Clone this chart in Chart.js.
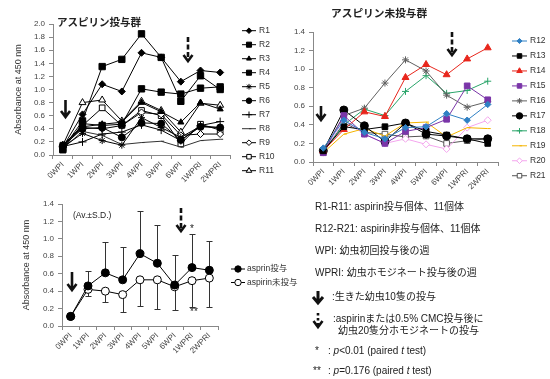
<!DOCTYPE html>
<html><head><meta charset="utf-8">
<script src="https://cdn.jsdelivr.net/npm/chart.js"></script>
<style>
html,body{margin:0;padding:0;background:#fff;}
body{width:550px;height:379px;position:relative;overflow:hidden;font-family:"Liberation Sans","Noto Sans CJK JP",sans-serif;color:#222;}
.c{position:absolute;}
.t{position:absolute;white-space:nowrap;font-size:10px;line-height:12px;color:#222;}
.ttl{position:absolute;white-space:nowrap;font-weight:bold;color:#222;font-family:"Noto Sans CJK JP",sans-serif;}
svg{position:absolute;left:0;top:0;}
</style></head><body>
<div class="c" style="left:0;top:0;width:280px;height:195px"><canvas id="c1" width="280" height="195"></canvas></div>
<div class="c" style="left:280px;top:0;width:270px;height:195px"><canvas id="c2" width="270" height="195"></canvas></div>
<div class="c" style="left:0;top:190px;width:310px;height:189px"><canvas id="c3" width="310" height="189"></canvas></div>

<div class="ttl" style="left:57px;top:14px;font-size:10.5px;line-height:16px">アスピリン投与群</div>
<div class="ttl" style="left:331px;top:5px;font-size:10.7px;line-height:16px">アスピリン未投与群</div>
<div class="t" style="left:73px;top:209px;font-size:8.5px">(Av.±S.D.)</div>
<div class="t" style="left:190px;top:223px;font-size:10px">*</div>
<div class="t" style="left:190px;top:306px;font-size:10px">**</div>

<div class="t" style="left:315px;top:201px">R1-R11: aspirin投与個体、11個体</div>
<div class="t" style="left:315px;top:223px">R12-R21: aspirin非投与個体、11個体</div>
<div class="t" style="left:315px;top:245px">WPI: 幼虫初回投与後の週</div>
<div class="t" style="left:315px;top:267px">WPRI: 幼虫ホモジネート投与後の週</div>
<div class="t" style="left:332px;top:291px">:生きた幼虫10隻の投与</div>
<div class="t" style="left:333px;top:313px">:aspirinまたは0.5% CMC投与後に</div>
<div class="t" style="left:338px;top:325px">幼虫20隻分ホモジネートの投与</div>
<div class="t" style="left:315px;top:345px">*</div>
<div class="t" style="left:328px;top:345px">: <i>p</i>&lt;0.01 (paired <i>t</i> test)</div>
<div class="t" style="left:313px;top:365px">**</div>
<div class="t" style="left:328px;top:365px">: <i>p</i>=0.176 (paired <i>t</i> test)</div>

<svg width="550" height="379" viewBox="0 0 550 379">
 <g fill="none" stroke="#111" stroke-width="2.6" stroke-linejoin="miter">
  <path d="M65.5 100 L65.5 116 M61 111 L65.5 117 L70 111"/>
  <path d="M321 106 L321 119 M316.5 114 L321 120 L325.5 114"/>
  <path d="M72 272 L72 289 M67.5 284 L72 290 L76.5 284"/>
  <path d="M318 291 L318 302 M313 297 L318 303 L323 297" stroke-width="3"/>
  <path d="M188 37 L188 59" stroke-dasharray="5 2.5"/><path d="M183.5 55 L188 61 L192.5 55"/>
  <path d="M452 32 L452 53" stroke-dasharray="5 2.5"/><path d="M447.5 49 L452 55 L456.5 49"/>
  <path d="M181 208 L181 229" stroke-dasharray="5 2.5"/><path d="M176.5 225 L181 231 L185.5 225"/>
  <path d="M318 313 L318 325" stroke-dasharray="2.5 2.5"/><path d="M313.5 321 L318 327 L322.5 321"/>
 </g>
</svg>

<script>
const categories = ['0WPI','1WPI','2WPI','3WPI','4WPI','5WPI','6WPI','1WPRI','2WPRI'];

// アスピリン投与群
const R1  = [0.12, 0.62, 1.08, 0.97, 1.56, 1.49, 1.12, 1.29, 1.26];
const R2  = [0.10, 0.52, 1.35, 1.46, 1.85, 1.49, 0.82, 1.21, 1.00];
const R3  = [0.15, 0.43, 0.47, 0.50, 0.80, 0.66, 0.50, 0.80, 0.70];
const R4  = [0.08, 0.48, 0.45, 0.47, 1.01, 0.96, 0.93, 1.02, 1.04];
const R5  = [0.12, 0.33, 0.22, 0.15, 0.57, 0.42, 0.27, 0.44, 0.42];
const R6  = [0.14, 0.40, 0.42, 0.27, 0.49, 0.48, 0.23, 0.43, 0.42];
const R7  = [0.13, 0.20, 0.32, 0.35, 0.46, 0.38, 0.22, 0.45, 0.51];
const R8  = [0.10, 0.36, 0.30, 0.16, 0.19, 0.21, 0.12, 0.22, 0.24];
const R9  = [0.13, 0.42, 0.40, 0.45, 0.65, 0.62, 0.30, 0.32, 0.32];
const R10 = [0.15, 0.45, 0.72, 0.45, 0.68, 0.60, 0.17, 0.47, 0.38];
const R11 = [0.15, 0.80, 0.84, 0.52, 0.82, 0.68, 0.35, 0.79, 0.76];

// アスピリン未投与群
const R12 = [0.15, 0.45, 0.32, 0.25, 0.37, 0.38, 0.52, 0.45, 0.62];
const R13 = [0.12, 0.38, 0.35, 0.38, 0.42, 0.33, 0.29, 0.25, 0.20];
const R14 = [0.12, 0.35, 0.54, 0.49, 0.91, 1.05, 0.94, 1.11, 1.23];
const R15 = [0.10, 0.50, 0.30, 0.20, 0.33, 0.37, 0.46, 0.82, 0.67];
const R16 = [0.12, 0.50, 0.58, 0.85, 1.10, 0.98, 0.72, 0.59, 0.65];
const R17 = [0.12, 0.56, 0.39, 0.22, 0.42, 0.30, 0.28, 0.25, 0.25];
const R18 = [0.12, 0.40, 0.57, 0.50, 0.76, 0.93, 0.74, 0.77, 0.87];
const R19 = [0.10, 0.30, 0.36, 0.28, 0.42, 0.43, 0.27, 0.37, 0.36];
const R20 = [0.10, 0.45, 0.30, 0.20, 0.25, 0.19, 0.14, 0.37, 0.45];
const R21 = [0.10, 0.42, 0.32, 0.30, 0.27, 0.28, 0.20, 0.23, 0.25];

// 平均 ± S.D.
const aspMean = [0.11, 0.46, 0.61, 0.53, 0.83, 0.72, 0.47, 0.67, 0.64];
const aspSD   = [0.00, 0.17, 0.35, 0.38, 0.49, 0.44, 0.34, 0.38, 0.33];
const nonMean = [0.11, 0.42, 0.40, 0.36, 0.53, 0.53, 0.45, 0.52, 0.55];
const nonSD   = [0.00, 0.07, 0.12, 0.20, 0.30, 0.33, 0.27, 0.30, 0.33];

const FONT = '"Liberation Sans","Noto Sans CJK JP",sans-serif';
Chart.defaults.font.family = FONT;
Chart.defaults.color = '#444';

function ds(label, data, color, style, radius, fill) {
  return {label, data, borderColor: color, borderWidth: 1, pointStyle: style,
    pointRadius: radius, pointBackgroundColor: fill, pointBorderColor: color,
    pointBorderWidth: 1, tension: 0, fill: false};
}

const sideLegend = {
  id: 'sideLegend',
  afterDraw(chart, args, o) {
    if (!o || o.x === undefined) return;
    const ctx = chart.ctx;
    chart.data.datasets.forEach((d, i) => {
      const y = o.y + i * o.dy;
      ctx.save();
      ctx.strokeStyle = d.borderColor; ctx.lineWidth = 1;
      ctx.beginPath(); ctx.moveTo(o.x, y); ctx.lineTo(o.x + o.len, y); ctx.stroke();
      ctx.fillStyle = d.pointBackgroundColor; ctx.strokeStyle = d.pointBorderColor;
      const opt = {pointStyle: d.pointStyle, radius: d.pointRadius * 0.8, borderWidth: 1, rotation: 0};
      if (Chart.helpers && Chart.helpers.drawPoint) Chart.helpers.drawPoint(ctx, opt, o.x + o.len / 2, y);
      ctx.fillStyle = o.color || '#333';
      ctx.font = (o.size || 8.5) + 'px ' + FONT;
      ctx.textBaseline = 'middle';
      ctx.fillText(d.label, o.x + o.len + o.gap, y);
      ctx.restore();
    });
  }
};

const errorBars = {
  id: 'errorBars',
  beforeDatasetsDraw(chart, args, o) {
    if (!o || !o.enabled) return;
    const ctx = chart.ctx, xs = chart.scales.x, ys = chart.scales.y;
    ctx.save(); ctx.strokeStyle = '#333'; ctx.lineWidth = 1;
    const bar = (i, m, e) => {
      const x = Math.round(xs.getPixelForValue(i)) + 0.5;
      const y0 = ys.getPixelForValue(m), y1 = Math.round(ys.getPixelForValue(e)) + 0.5;
      ctx.beginPath(); ctx.moveTo(x, y0); ctx.lineTo(x, y1);
      ctx.moveTo(x - 3, y1); ctx.lineTo(x + 3, y1); ctx.stroke();
    };
    categories.forEach((c, i) => {
      if (aspSD[i] > 0) bar(i, aspMean[i], aspMean[i] + aspSD[i]);
      if (nonSD[i] > 0) bar(i, nonMean[i], nonMean[i] - nonSD[i]);
    });
    ctx.restore();
  }
};
Chart.register(sideLegend, errorBars);

function scales(max, xH, yW, title) {
  const grid = {display: true, drawOnChartArea: false, drawTicks: true, tickLength: 4, color: '#888'};
  return {
    x: {type: 'category', offset: true,
        grid: Object.assign({}, grid, {offset: true}),
        border: {color: '#888'},
        ticks: {minRotation: 45, maxRotation: 45, autoSkip: false, font: {size: 8}, color: '#444', padding: 1},
        afterFit(s) { s.height = xH; }},
    y: {min: 0, max: max,
        grid: grid, border: {color: '#888'},
        ticks: {stepSize: 0.2, font: {size: 8}, color: '#444', padding: 4,
                callback: v => Number(v).toFixed(1)},
        title: {display: !!title, text: title, font: {size: 9}, color: '#333', padding: {top: 0, bottom: 2}},
        afterFit(s) { s.width = yW; }}
  };
}

const base = (pad, sc, legend, eb) => ({
  responsive: false, animation: false, devicePixelRatio: 1,
  layout: {padding: pad},
  plugins: {legend: {display: false}, tooltip: {enabled: false}, title: {display: false},
            sideLegend: legend, errorBars: eb || {enabled: false}},
  scales: sc
});

new Chart(document.getElementById('c1'), {
  type: 'line',
  data: {labels: categories, datasets: [
    ds('R1', R1, '#000', 'rectRot', 3.5, '#000'),
    ds('R2', R2, '#000', 'rect', 4.5, '#000'),
    ds('R3', R3, '#000', 'triangle', 3.5, '#000'),
    ds('R4', R4, '#000', 'rect', 4.5, '#000'),
    ds('R5', R5, '#000', 'star', 3.5, '#000'),
    ds('R6', R6, '#000', 'circle', 3.5, '#000'),
    ds('R7', R7, '#000', 'cross', 4, '#000'),
    ds('R8', R8, '#333', 'dash', 3, '#333'),
    ds('R9', R9, '#000', 'rectRot', 3.5, '#fff'),
    ds('R10', R10, '#000', 'rect', 4, '#fff'),
    ds('R11', R11, '#000', 'triangle', 4, '#fff')
  ]},
  options: base({left: 13, top: 24, right: 50, bottom: 0}, scales(2.0, 40, 40, 'Absorbance at 450 nm'),
    {x: 242, y: 30.7, dy: 14, len: 14, gap: 3, size: 8.5})
});

new Chart(document.getElementById('c2'), {
  type: 'line',
  data: {labels: categories, datasets: [
    ds('R12', R12, '#2f80c4', 'rectRot', 3.2, '#2f80c4'),
    ds('R13', R13, '#000', 'rect', 4, '#000'),
    ds('R14', R14, '#e8261c', 'triangle', 4, '#e8261c'),
    ds('R15', R15, '#7a35a8', 'rect', 4, '#7a35a8'),
    ds('R16', R16, '#606060', 'star', 3.5, '#606060'),
    ds('R17', R17, '#000', 'circle', 4, '#000'),
    ds('R18', R18, '#2aa56a', 'cross', 3.5, '#2aa56a'),
    ds('R19', R19, '#f5b400', 'dash', 3, '#f5b400'),
    ds('R20', R20, '#f4a6ee', 'rectRot', 3.5, '#fff'),
    ds('R21', R21, '#555', 'rect', 4, '#fff')
  ]},
  options: base({left: 0, top: 32, right: 52, bottom: 0}, scales(1.4, 33, 33, ''),
    {x: 232, y: 41, dy: 14.97, len: 15, gap: 3, size: 8.5})
});

new Chart(document.getElementById('c3'), {
  type: 'line',
  data: {labels: categories, datasets: [
    ds('asprin投与', aspMean, '#000', 'circle', 4, '#000'),
    ds('aspirin未投与', nonMean, '#000', 'circle', 4, '#fff')
  ]},
  options: base({left: 21, top: 14, right: 92, bottom: 0}, scales(1.4, 53, 41, 'Absorbance at 450 nm'),
    {x: 231, y: 79, dy: 13.5, len: 14, gap: 2, size: 8.5}, {enabled: true})
});
</script>
</body></html>
